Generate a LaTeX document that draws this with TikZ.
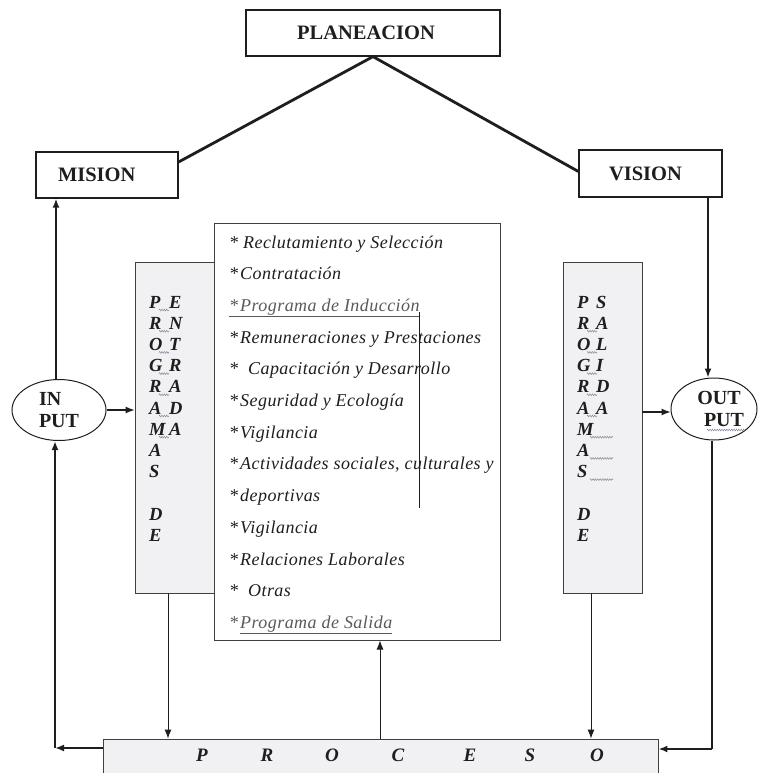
\documentclass[tikz,border=0pt]{standalone}
\usepackage{fontspec}
\setmainfont{Liberation Serif}
\usetikzlibrary{arrows.meta,shapes.geometric,decorations.pathmorphing}
\definecolor{ink}{HTML}{1E1E1E}
\definecolor{boxfill}{HTML}{F1F1F3}
\definecolor{linkgray}{HTML}{5A5A5A}
\definecolor{squig}{HTML}{8A8A9A}
\tikzset{
  titlebox/.style={draw=ink, line width=1.2pt, fill=white, text=ink, inner sep=0pt,
    font=\fontsize{20.5}{24}\selectfont\bfseries},
  graybox/.style={draw=ink!85, line width=0.9pt, fill=boxfill, inner sep=0pt},
  listbox/.style={draw=ink!85, line width=1pt, fill=white, inner sep=0pt},
  ovalnode/.style={ellipse, draw=ink, line width=1pt, fill=white, inner sep=0pt, text=ink,
    font=\fontsize{20}{22}\selectfont\bfseries},
  letter/.style={font=\fontsize{18.5}{20}\selectfont\bfseries\itshape, text=ink, anchor=base west, inner sep=0pt},
  barletter/.style={font=\fontsize{19}{20}\selectfont\bfseries\itshape, text=ink, anchor=base, inner sep=0pt},
  item/.style={font=\fontsize{18}{20}\selectfont\itshape\addfontfeature{LetterSpace=2.5}, text=ink, anchor=base west, inner sep=0pt},
  linkitem/.style={item, text=linkgray},
  tip/.style={-{Latex[length=9pt,width=7pt]}},
  heavy/.style={line width=2.8pt, draw=ink},
  outer/.style={line width=2pt, draw=ink},
  thin/.style={line width=0.9pt, draw=ink},
  squiggle/.style={draw=squig, line width=0.5pt, decorate,
    decoration={zigzag, segment length=2.4pt, amplitude=0.9pt}},
}
\begin{document}
\begin{tikzpicture}[x=1pt, y=-1pt]
\useasboundingbox (0,0) rectangle (758,773);
\fill[white] (0,0) rectangle (758,773);

% top boxes
\node[titlebox, minimum width=254pt, minimum height=46pt] (plan) at (373,33) {\hspace*{-14pt}PLANEACION};
\node[titlebox, minimum width=142pt, minimum height=46pt, text width=98pt, align=left] (mision) at (107,175) {MISION};
\node[titlebox, minimum width=143pt, minimum height=47pt] (vision) at (650.5,173.5) {\hspace*{-10pt}VISION};

\draw[heavy] (plan.south) -- ([yshift=13pt]mision.east);
\draw[heavy] (plan.south) -- ([yshift=2pt]vision.west);

% gray program boxes
\node[graybox, minimum width=79pt, minimum height=331pt] (lbox) at (174.5,427.5) {};
\node[graybox, minimum width=79pt, minimum height=331pt] (rbox) at (602.5,427.5) {};

% list box
\node[listbox, minimum width=286pt, minimum height=417pt] (list) at (357,431.5) {};

% letters, left box
\foreach \ch [count=\i] in {P,R,O,G,R,A,M,A,S} {
  \pgfmathsetmacro\yy{308+21.2*(\i-1)}
  \node[letter] (la\i) at (149,\yy) {\ch};
}
\node[letter] (la10) at (149,{308+21.2*10}) {D};
\node[letter] (la11) at (149,{308+21.2*11}) {E};
\foreach \ch [count=\i] in {E,N,T,R,A,D,A} {
  \pgfmathsetmacro\yy{308+21.2*(\i-1)}
  \node[letter] (lb\i) at (169,\yy) {\ch};
  \draw[squiggle] (159,\yy+2) -- (169,\yy+2);
}

% letters, right box
\foreach \ch [count=\i] in {P,R,O,G,R,A,M,A,S} {
  \pgfmathsetmacro\yy{308+21.2*(\i-1)}
  \node[letter] (ra\i) at (577,\yy) {\ch};
}
\node[letter] (ra10) at (577,{308+21.2*10}) {D};
\node[letter] (ra11) at (577,{308+21.2*11}) {E};
\foreach \ch [count=\i] in {S,A,L,I,D,A} {
  \pgfmathsetmacro\yy{308+21.2*(\i-1)}
  \node[letter] (rb\i) at (596,\yy) {\ch};
}
\foreach \i in {2,...,6} {
  \pgfmathsetmacro\yy{308+21.2*(\i-1)}
  \draw[squiggle] (587,\yy+2) -- (597,\yy+2);
}
\foreach \i in {7,8,9} {
  \pgfmathsetmacro\yy{308+21.2*(\i-1)}
  \draw[squiggle] (590,\yy+2) -- (613,\yy+2);
}

% list items
\node[item] (i1) at (229,248) {* Reclutamiento y Selección};
\node[item] (i2) at (229,279.7) {*\kern2pt Contratación};
\node[linkitem] (i3) at (229,311.4) {\underline{*\kern2pt Programa de Inducción}};
\node[item] (i4) at (229,343.1) {*\kern2pt Remuneraciones y Prestaciones};
\node[item] (i5) at (229,374.8) {*\ \ Capacitación y Desarrollo};
\node[item] (i6) at (229,406.5) {*\kern2pt Seguridad y Ecología};
\node[item] (i7) at (229,438.2) {*\kern2pt Vigilancia};
\node[item] (i8) at (229,469.9) {*\kern2pt Actividades sociales, culturales y};
\node[item] (i9) at (229,501.6) {*\kern2pt deportivas};
\node[item] (i10) at (229,533.3) {*\kern2pt Vigilancia};
\node[item] (i11) at (229,565) {*\kern2pt Relaciones Laborales};
\node[item] (i12) at (229,596.7) {*\ \ Otras};
\node[linkitem] (i13) at (229,628.4) {*\kern2pt \underline{Programa de Salida}};

% stray vertical line inside the list
\coordinate (s1) at (419,312);
\coordinate (s2) at (419,508);
\draw[thin] (s1) -- (s2);

% input / output
\node[ovalnode, minimum width=94pt, minimum height=61pt, align=left] (input) at (59,410) {IN\\PUT};
\node[ovalnode, minimum width=86pt, minimum height=62pt, align=center] (output) at (714,409) {\hspace*{10pt}OUT\\\hspace*{20pt}PUT};
\draw[squiggle] (707,430) -- (745,430);

% process bar
\node[graybox, minimum width=555pt, minimum height=50pt] (bar) at (380.5,764) {};
\foreach \ch/\xx [count=\i] in {P/202,R/267,O/332,C/398,E/470,S/530,O/597} {
  \node[barletter] (p\i) at (\xx,761) {\ch};
}

% connectors
\draw[outer, line width=2.4pt, tip] ([xshift=-3pt]input.north) -- ([xshift=-3pt]input.north |- mision.south);
\draw[outer, line width=1.6pt, tip] ([xshift=-6pt]output.north |- vision.south) -- ([xshift=-6pt]output.north);
\draw[thin, line width=1.2pt, tip] (input.east) -- (lbox.west |- input.east);
\draw[thin, line width=1.2pt, tip] (rbox.east |- 0,412) -- (output.west |- 0,412);

\coordinate (lb) at ([xshift=-6.5pt]lbox.south);
\coordinate (rb) at ([xshift=-11.5pt]rbox.south);
\draw[thin, tip] (lb) -- (lb |- bar.north);
\draw[thin, tip] (rb) -- (rb |- bar.north);
\coordinate (up) at (380,739);
\draw[thin, tip] (up) -- (up |- list.south);

\coordinate (cl) at (55,748);
\draw[outer, tip] (bar.west |- cl) -- (cl);
\draw[outer, tip] (cl) -- (cl |- input.south);
\coordinate (cr) at (712,749);
\draw[outer] (output.south -| cr) -- (cr);
\draw[outer, tip] (cr) -- (bar.east |- cr);
\end{tikzpicture}
\end{document}
